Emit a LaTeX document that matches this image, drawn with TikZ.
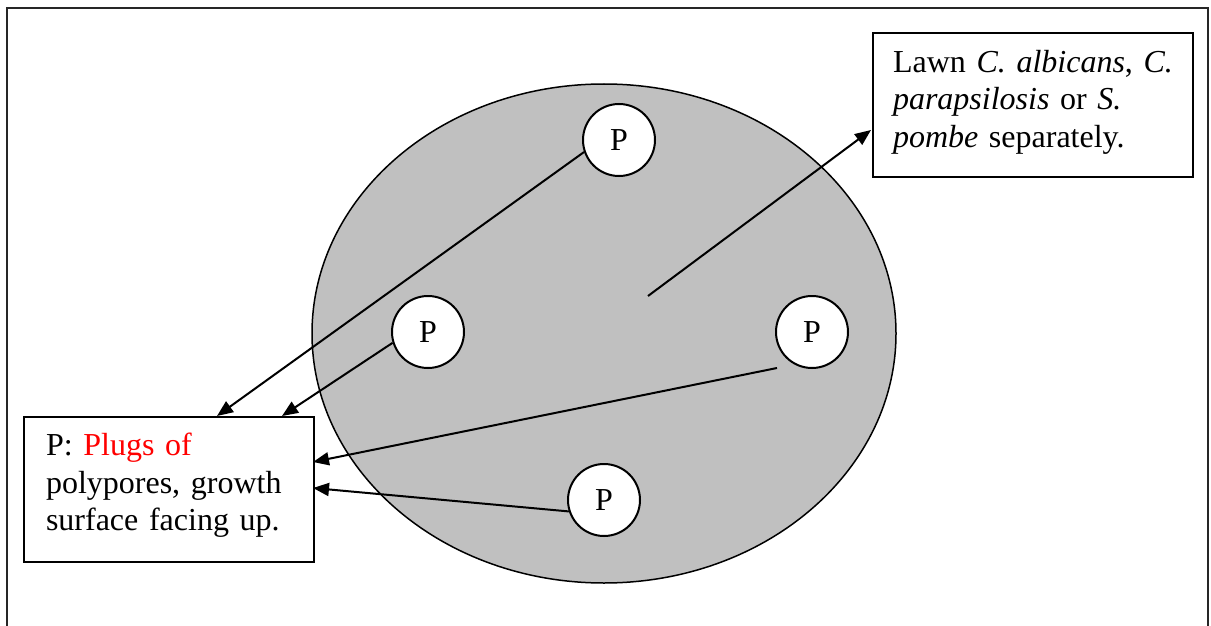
\documentclass[tikz,border=0pt]{standalone}
\usepackage{fontspec}
\setmainfont{Liberation Serif}
\usetikzlibrary{arrows.meta,shapes.geometric}
% extra depth below the last line of a label, to lift the block a little
\newcommand{\lowpad}{\rule[-15pt]{0pt}{15pt}}
\begin{document}
\begin{tikzpicture}[x=1pt,y=-1pt,
  every node/.style={font=\fontsize{32}{37.5}\selectfont},
  plug/.style={circle,draw,fill=white,line width=2pt,minimum size=72pt,inner sep=0pt},
  infobox/.style={draw,fill=white,line width=2pt,anchor=north west,align=left,
    inner ysep=0pt},
  pointer/.style={line width=2pt,-{Triangle[length=16pt,width=13pt]}}]
\useasboundingbox (0,0) rectangle (1211,626);
% outer frame, open at the bottom
\draw[line width=1.5pt,black!85] (7,626) -- (7,8) -- (1208,8) -- (1208,626);
% agar plate
\node[ellipse,draw,fill={rgb,255:red,192;green,192;blue,192},line width=1.5pt,
  minimum width=584pt,minimum height=499pt,inner sep=0pt] (plate) at (604,333.5) {};
% plugs
\node[plug] (p1) at (619,140) {P};
\node[plug] (p2) at (428,332) {P};
\node[plug] (p3) at (812,332) {P};
\node[plug] (p4) at (604,500) {P};
% labels
\node[infobox,text width=280pt,inner xsep=20pt,minimum height=144pt] (lawn) at (872,32)
  {Lawn \textit{C. albicans}, \textit{C.}\\ \textit{parapsilosis} or \textit{S.}\\ \textit{pombe} separately.\rule[-13pt]{0pt}{13pt}};
\node[infobox,text width=246pt,inner xsep=22pt,minimum height=145pt] (legend) at (23,416)
  {P: \textcolor{red}{Plugs of}\\ polypores, growth\\ surface facing up.\lowpad};
% arrow ends
\coordinate (t1) at (217,416);
\coordinate (t2) at (282,416);
\coordinate (t3) at (313,462);
\coordinate (t4) at (313,488);
\coordinate (s3) at (777,368);
\coordinate (s5) at (648,296);
\coordinate (t5) at (871,130);
% connectors
\draw[pointer] (p1.199) -- (t1);
\draw[pointer] (p2.197) -- (t2);
\draw[pointer] (s3) -- (t3);
\draw[pointer] (p4.198) -- (t4);
\draw[pointer] (s5) -- (t5);
\end{tikzpicture}
\end{document}
